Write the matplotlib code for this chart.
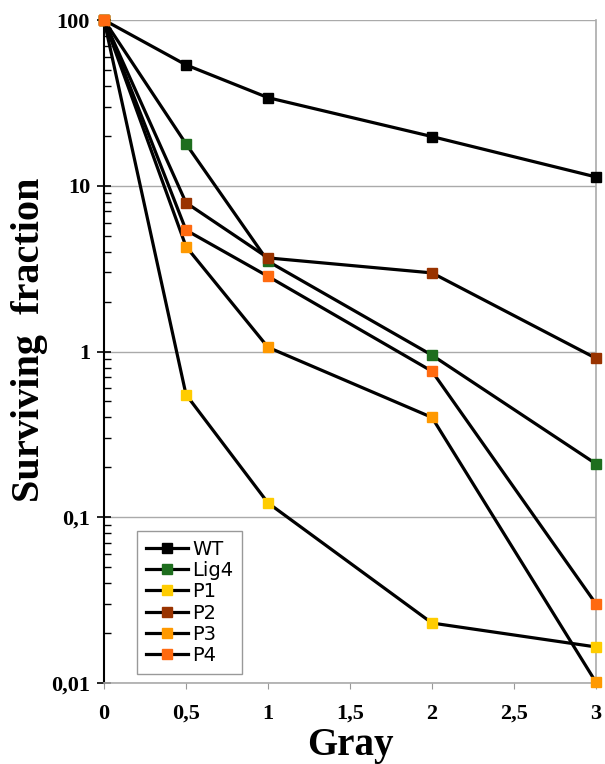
import matplotlib
matplotlib.use("Agg")
import matplotlib.pyplot as plt
from matplotlib.ticker import LogLocator, NullFormatter

# dose in Gray
dose = [0, 0.5, 1, 2, 3]

labels = ["WT", "Lig4", "P1", "P2", "P3", "P4"]
colors = ["#000000", "#1e6e1e", "#ffcc00", "#993300", "#ff9900", "#ff6a10"]

wt = [100, 53.6, 34, 19.8, 11.3]
lig4 = [100, 17.9, 3.5, 0.95, 0.21]
p1 = [100, 0.55, 0.122, 0.023, 0.0165]
p2 = [100, 7.9, 3.67, 2.98, 0.91]
p3 = [100, 4.3, 1.06, 0.40, 0.0101]
p4 = [100, 5.4, 2.84, 0.76, 0.030]
series = [wt, lig4, p1, p2, p3, p4]

yticks = [100, 10, 1, 0.1, 0.01]
ytick_labels = ["100", "10", "1", "0,1", "0,01"]
xticks = [0, 0.5, 1, 1.5, 2, 2.5, 3]
xtick_labels = ["0", "0,5", "1", "1,5", "2", "2,5", "3"]

serif = ["Liberation Serif", "DejaVu Serif"]

fig = plt.figure(figsize=(6.05, 7.64), dpi=100)
ax = fig.add_axes([104 / 605, 81 / 764, 492 / 605, 663 / 764])

for vals, lab, col in zip(series, labels, colors):
    ax.plot(dose, vals, color="black", lw=2.3, marker="s", ms=6.5,
            mfc=col, mec=col, label=lab, zorder=3, clip_on=False)

ax.set_yscale("log")
ax.set_ylim(0.01, 100)
ax.set_xlim(0, 3)

ax.set_yticks(yticks)
ax.set_yticklabels(ytick_labels, fontfamily=serif, fontweight="bold", fontsize=16)
ax.yaxis.set_minor_locator(LogLocator(base=10, subs=range(2, 10)))
ax.yaxis.set_minor_formatter(NullFormatter())
ax.tick_params(axis="y", which="major", direction="inout", length=10, width=1.2, pad=5)
ax.tick_params(axis="y", which="minor", direction="in", length=5, width=1)

ax.set_xticks(xticks)
ax.set_xticklabels(xtick_labels, fontfamily=serif, fontweight="bold", fontsize=16)
ax.tick_params(axis="x", direction="out", length=4, color="#999999", pad=11)

ax.grid(axis="y", which="major", color="#aaaaaa", lw=1)
ax.set_axisbelow(True)

ax.spines["left"].set_color("black")
ax.spines["left"].set_linewidth(1.5)
for side in ("right", "bottom", "top"):
    ax.spines[side].set_color("#aaaaaa")
    ax.spines[side].set_linewidth(1.2)
ax.spines["top"].set_visible(False)

# x label placed by hand so it sits in the strip under the tick labels
fig.text(350 / 605, 1 - 746 / 764, "Gray", fontfamily=serif, fontweight="bold",
         fontsize=28, ha="center", va="center")
ax.set_ylabel("Surviving  fraction", fontfamily=serif, fontweight="bold", fontsize=29)
ax.yaxis.set_label_coords(-0.113, 0.517)

leg = ax.legend(loc="lower left", bbox_to_anchor=(0.067, 0.0136), borderaxespad=0,
                fancybox=False, edgecolor="#999999", framealpha=1,
                prop={"family": "DejaVu Sans", "size": 14},
                handlelength=2.2, labelspacing=0.12, borderpad=0.45,
                handletextpad=0.2)
leg.get_frame().set_linewidth(1)

fig.savefig("out.png", dpi=100)
